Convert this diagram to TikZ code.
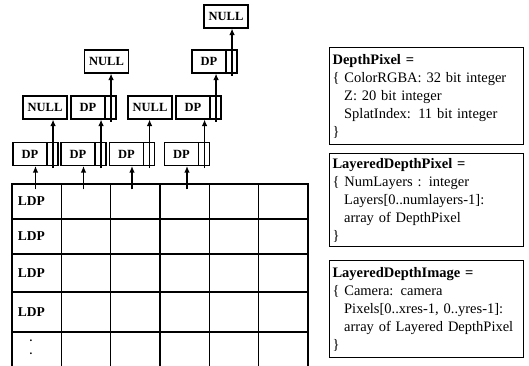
\documentclass[tikz,border=0pt]{standalone}
\usepackage{fontspec}
\setmainfont{Liberation Serif}
\usetikzlibrary{arrows.meta}
\newcommand{\tind}{\hspace*{0.8em}}
\tikzset{
  dpbox/.style={
    draw, line width=1.1pt, minimum width=45pt, minimum height=23pt,
    inner sep=0pt, font=\bfseries\fontsize{12.5}{14}\selectfont,
    execute at end node=\hspace*{11pt},
    path picture={\draw[line width=1.1pt]
      ([xshift=-11pt]path picture bounding box.north east) --
      ([xshift=-11pt]path picture bounding box.south east);}
  },
  nullbox/.style={
    draw, line width=1.1pt, minimum width=44pt, minimum height=23pt,
    inner sep=0pt, font=\bfseries\fontsize{12.5}{14}\selectfont
  },
  ptrarrow/.style={
    -{Latex[length=6.5pt,width=5.5pt]}, line width=1.2pt
  },
  cellbox/.style={
    draw, line width=1.2pt, minimum width=49.33pt, inner sep=0pt
  },
  ldplabel/.style={
    anchor=west, xshift=3pt, font=\bfseries\fontsize{13.5}{13}\selectfont
  },
  dotlabel/.style={
    inner sep=0pt, font=\bfseries\fontsize{11}{11}\selectfont
  },
  typebox/.style={
    draw, line width=1.1pt, anchor=north west, align=left,
    text width=188pt, inner xsep=3pt, inner ysep=2pt,
    font=\fontsize{14.5}{18}\selectfont
  },
}
\begin{document}
\begin{tikzpicture}[x=1pt, y=-1pt]
  \useasboundingbox (0,0) rectangle (529,366);

  % grid of layered depth pixels
  \foreach \r/\y/\h in {1/201.5/35, 2/236.5/35, 3/273/38, 4/312/40, 5/352/40}
    \foreach \c/\x in {1/36.67, 2/86, 3/135.33, 4/184.67, 5/234, 6/283.33}
      \node[cellbox, minimum height=\h*1pt] (c-\r-\c) at (\x,\y) {};
  \foreach \r in {1,...,4}
    \node[ldplabel] (ldp\r) at (c-\r-1.west) {LDP};
  \node[dotlabel] (dot1) at (31,341) {.};
  \node[dotlabel] (dot2) at (31,354) {.};

  % first layer
  \node[dpbox] (b1) at (35.5,154) {DP};
  \node[dpbox] (b2) at (83.5,154) {DP};
  \node[dpbox] (b3) at (132,154) {DP};
  \node[dpbox] (b4) at (187,154) {DP};

  % second layer
  \node[nullbox] (n1) at (45,107.5) {NULL};
  \node[dpbox] (b5) at (93.5,107.5) {DP};
  \node[nullbox] (n2) at (150,107.5) {NULL};
  \node[dpbox] (b6) at (198.5,107.5) {DP};

  % third and fourth layer
  \node[nullbox] (n3) at (106.5,61.5) {NULL};
  \node[dpbox] (b7) at (214.5,61.5) {DP};
  \node[nullbox] (n4) at (226,16.5) {NULL};

  % pointer fields
  \foreach \b in {1,...,7}
    \coordinate (p\b) at ([xshift=-5.5pt,yshift=-2pt]b\b.south east);

  % pixels to first layer
  \foreach \c/\b in {1/1, 2/2, 3/3, 4/4}
    \draw[ptrarrow, shorten <=-6pt] (b\b.south |- c-1-\c.north) -- (b\b.south);

  % next pointers
  \draw[ptrarrow] (p1) -- (p1 |- n1.south);
  \draw[ptrarrow] (p2) -- (p2 |- b5.south);
  \draw[ptrarrow] (p3) -- (p3 |- n2.south);
  \draw[ptrarrow] (p4) -- (p4 |- b6.south);
  \draw[ptrarrow] (p5) -- (p5 |- n3.south);
  \draw[ptrarrow] (p6) -- (p6 |- b7.south);
  \draw[ptrarrow] (p7) -- (p7 |- n4.south);

  % type definitions
  \node[typebox, minimum height=97pt] (dpix) at (329,47)
    {\textbf{DepthPixel =}\\
     \{ ColorRGBA: 32 bit integer\\
     \tind Z: 20 bit integer\\
     \tind SplatIndex: 11 bit integer\\
     \}};
  \node[typebox, minimum height=93pt] (ldpix) at (329,153)
    {\textbf{LayeredDepthPixel =}\\
     \{ NumLayers : integer\\
     \tind Layers[0..numlayers-1]:\\
     \tind array of DepthPixel\\
     \}};
  \node[typebox, minimum height=97pt] (ldimg) at (329,260)
    {\textbf{LayeredDepthImage =}\\
     \{ Camera: camera\\
     \tind Pixels[0..xres-1, 0..yres-1]:\\
     \tind array of Layered DepthPixel\\
     \}};
\end{tikzpicture}
\end{document}
